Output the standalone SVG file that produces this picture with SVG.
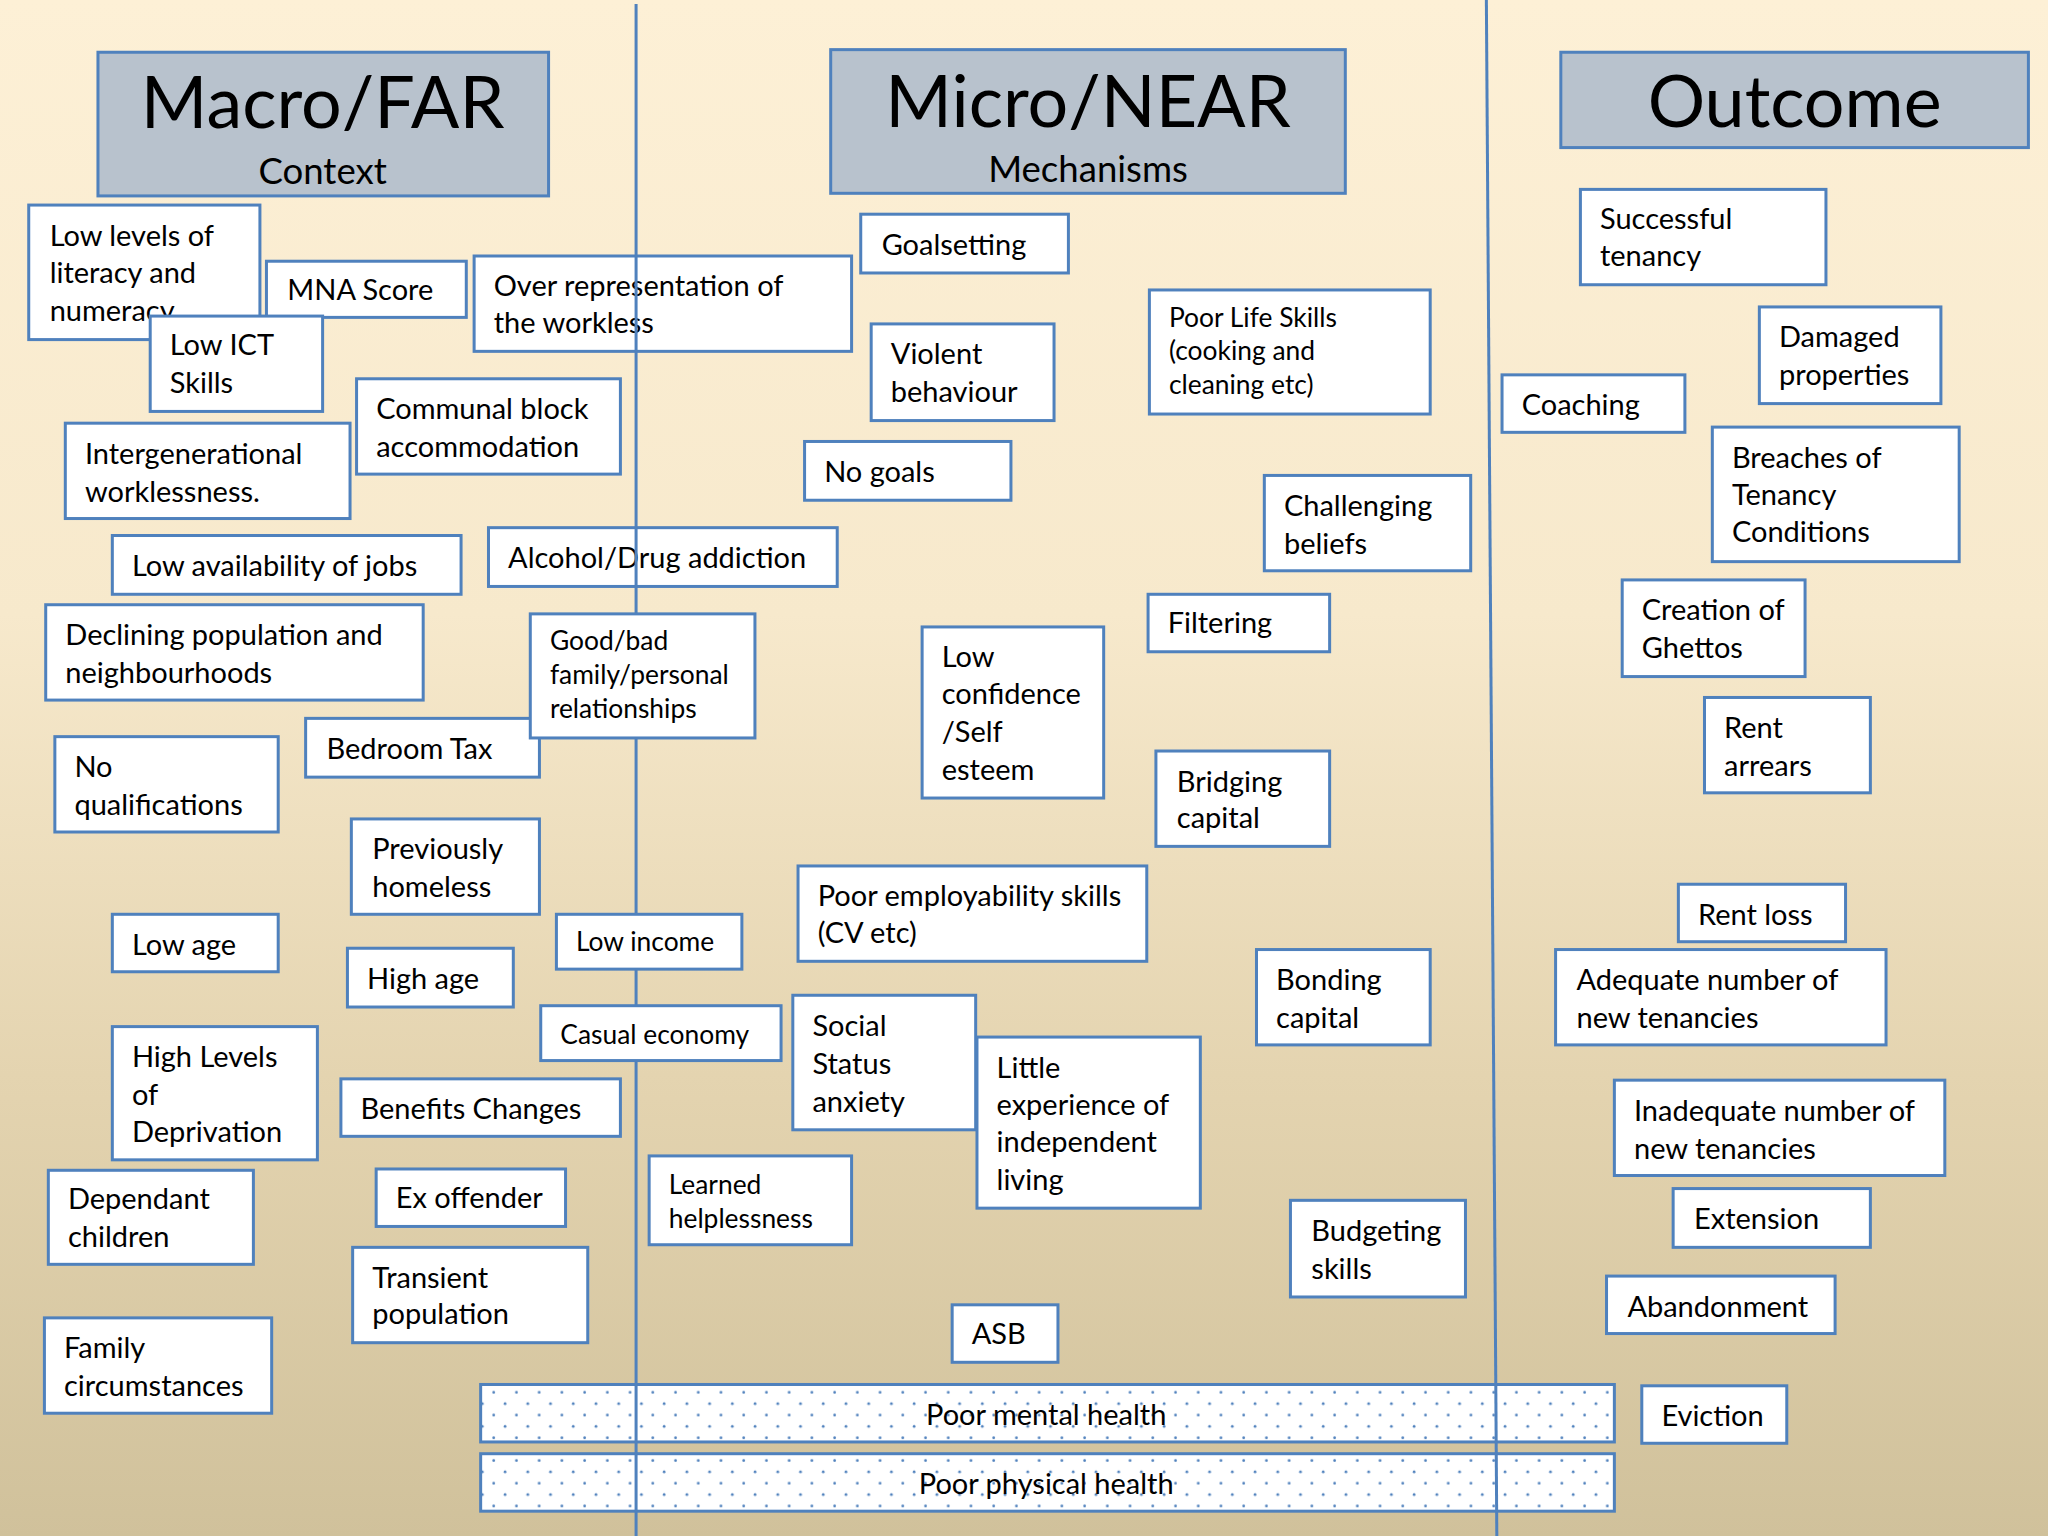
<svg xmlns="http://www.w3.org/2000/svg" width="2048" height="1536" viewBox="0 0 2048 1536">
<defs>
<linearGradient id="bg" x1="0" y1="0" x2="0" y2="1">
<stop offset="0" stop-color="#FDF0D6"/>
<stop offset="0.4" stop-color="#F7E9CC"/>
<stop offset="0.7" stop-color="#E4D4B0"/>
<stop offset="1" stop-color="#D0C19B"/>
</linearGradient>
<pattern id="dots" patternUnits="userSpaceOnUse" x="376" y="1064" width="17.4" height="17.4">
<rect width="17.4" height="17.4" fill="#FFFFFF"/>
<circle cx="2" cy="2" r="1.05" fill="#4F81BD"/>
<circle cx="10.7" cy="10.7" r="1.05" fill="#4F81BD"/>
</pattern>
<style>
.box{fill:#FFFFFF;stroke:#4F81BD;stroke-width:2.3}
.hdr{fill:#B8C2CD;stroke:#4F81BD;stroke-width:2.3}
.dot{fill:url(#dots);stroke:#4F81BD;stroke-width:2.3}
.div{stroke:#4F81BD;stroke-width:2.3;fill:none}
text{font-family:Lato,"Open Sans","Liberation Sans",sans-serif;fill:#000000}
.t{font-size:22.2px}
.s{font-size:20.2px}
.big{font-size:55px;text-anchor:middle}
.sub{font-size:28px;text-anchor:middle}
.c{text-anchor:middle}
</style>
</defs>
<rect width="2048" height="1536" fill="url(#bg)"/>
<g transform="scale(1.306122)">
<g id="hdr-macro"><rect class="hdr" x="75" y="40" width="345" height="110"/><text class="big" x="247" y="98">Macro/FAR</text><text class="sub" x="247" y="141">Context</text></g>
<g id="hdr-micro"><rect class="hdr" x="636" y="38" width="394" height="110"/><text class="big" x="833" y="97">Micro/NEAR</text><text class="sub" x="833" y="139">Mechanisms</text></g>
<g id="hdr-outcome"><rect class="hdr" x="1195" y="40" width="358" height="73"/><text class="big" x="1374" y="97">Outcome</text></g>

<g id="n-literacy"><rect class="box" x="22" y="157" width="177" height="103"/><text class="t"><tspan x="38" y="188">Low levels of</tspan><tspan x="38" y="217">literacy and</tspan><tspan x="38" y="246">numeracy</tspan></text></g>
<g id="n-mna"><rect class="box" x="204" y="200" width="153" height="43"/><text class="t" x="220" y="230">MNA Score</text></g>
<g id="n-ict"><rect class="box" x="115" y="242" width="132" height="73"/><text class="t"><tspan x="130" y="272">Low ICT</tspan><tspan x="130" y="301">Skills</tspan></text></g>
<g id="n-overrep"><rect class="box" x="363" y="196" width="289" height="73"/><text class="t"><tspan x="378" y="227">Over representation of</tspan><tspan x="378" y="255">the workless</tspan></text></g>
<g id="n-communal"><rect class="box" x="273" y="290" width="202" height="73"/><text class="t"><tspan x="288" y="321">Communal block</tspan><tspan x="288" y="350">accommodation</tspan></text></g>
<g id="n-intergen"><rect class="box" x="50" y="324" width="218" height="73"/><text class="t"><tspan x="65" y="355">Intergenerational</tspan><tspan x="65" y="384">worklessness.</tspan></text></g>
<g id="n-jobs"><rect class="box" x="86" y="410" width="267" height="45"/><text class="t" x="101" y="441">Low availability of jobs</text></g>
<g id="n-alcohol"><rect class="box" x="374" y="404" width="267" height="45"/><text class="t" x="389" y="435">Alcohol/Drug addiction</text></g>
<g id="n-declining"><rect class="box" x="35" y="463" width="289" height="73"/><text class="t"><tspan x="50" y="494">Declining population and</tspan><tspan x="50" y="523">neighbourhoods</tspan></text></g>
<g id="n-bedroom"><rect class="box" x="234" y="550" width="179" height="45"/><text class="t" x="250" y="581">Bedroom Tax</text></g>
<g id="n-noqual"><rect class="box" x="42" y="564" width="171" height="73"/><text class="t"><tspan x="57" y="595">No</tspan><tspan x="57" y="624">qualifications</tspan></text></g>
<g id="n-prevhomeless"><rect class="box" x="269" y="627" width="144" height="73"/><text class="t"><tspan x="285" y="658">Previously</tspan><tspan x="285" y="687">homeless</tspan></text></g>
<g id="n-lowage"><rect class="box" x="86" y="700" width="127" height="44"/><text class="t" x="101" y="731">Low age</text></g>
<g id="n-highage"><rect class="box" x="266" y="726" width="127" height="45"/><text class="t" x="281" y="757">High age</text></g>
<g id="n-deprivation"><rect class="box" x="86" y="786" width="157" height="102"/><text class="t"><tspan x="101" y="817">High Levels</tspan><tspan x="101" y="846">of</tspan><tspan x="101" y="874">Deprivation</tspan></text></g>
<g id="n-benefits"><rect class="box" x="261" y="826" width="214" height="44"/><text class="t" x="276" y="857">Benefits Changes</text></g>
<g id="n-dependant"><rect class="box" x="37" y="896" width="157" height="72"/><text class="t"><tspan x="52" y="926">Dependant</tspan><tspan x="52" y="955">children</tspan></text></g>
<g id="n-exoffender"><rect class="box" x="288" y="895" width="145" height="44"/><text class="t" x="303" y="925">Ex offender</text></g>
<g id="n-transient"><rect class="box" x="270" y="955" width="180" height="73"/><text class="t"><tspan x="285" y="986">Transient</tspan><tspan x="285" y="1014">population</tspan></text></g>
<g id="n-family"><rect class="box" x="34" y="1009" width="174" height="73"/><text class="t"><tspan x="49" y="1040">Family</tspan><tspan x="49" y="1069">circumstances</tspan></text></g>
<g id="n-learned"><rect class="box" x="497" y="885" width="155" height="68"/><text class="s"><tspan x="512" y="914">Learned</tspan><tspan x="512" y="940">helplessness</tspan></text></g>

<g id="n-goalsetting"><rect class="box" x="659" y="164" width="159" height="45"/><text class="t" x="675" y="195">Goalsetting</text></g>
<g id="n-violent"><rect class="box" x="667" y="248" width="140" height="74"/><text class="t"><tspan x="682" y="279">Violent</tspan><tspan x="682" y="308">behaviour</tspan></text></g>
<g id="n-nogoals"><rect class="box" x="616" y="338" width="158" height="45"/><text class="t" x="631" y="369">No goals</text></g>
<g id="n-lifeskills"><rect class="box" x="880" y="222" width="215" height="95"/><text class="s"><tspan x="895" y="250">Poor Life Skills</tspan><tspan x="895" y="276">(cooking and</tspan><tspan x="895" y="302">cleaning etc)</tspan></text></g>
<g id="n-challenging"><rect class="box" x="968" y="364" width="158" height="73"/><text class="t"><tspan x="983" y="395">Challenging</tspan><tspan x="983" y="424">beliefs</tspan></text></g>
<g id="n-filtering"><rect class="box" x="879" y="455" width="139" height="44"/><text class="t" x="894" y="485">Filtering</text></g>
<g id="n-confidence"><rect class="box" x="706" y="480" width="139" height="131"/><text class="t"><tspan x="721" y="511">Low</tspan><tspan x="721" y="539">confidence</tspan><tspan x="721" y="568">/Self</tspan><tspan x="721" y="597">esteem</tspan></text></g>
<g id="n-bridging"><rect class="box" x="885" y="575" width="133" height="73"/><text class="t"><tspan x="901" y="606">Bridging</tspan><tspan x="901" y="634">capital</tspan></text></g>
<g id="n-employability"><rect class="box" x="611" y="663" width="267" height="73"/><text class="t"><tspan x="626" y="694">Poor employability skills</tspan><tspan x="626" y="722">(CV etc)</tspan></text></g>
<g id="n-bonding"><rect class="box" x="962" y="727" width="133" height="73"/><text class="t"><tspan x="977" y="758">Bonding</tspan><tspan x="977" y="787">capital</tspan></text></g>
<g id="n-social"><rect class="box" x="607" y="762" width="140" height="103"/><text class="t"><tspan x="622" y="793">Social</tspan><tspan x="622" y="822">Status</tspan><tspan x="622" y="851">anxiety</tspan></text></g>
<g id="n-little"><rect class="box" x="748" y="794" width="171" height="131"/><text class="t"><tspan x="763" y="825">Little</tspan><tspan x="763" y="854">experience of</tspan><tspan x="763" y="882">independent</tspan><tspan x="763" y="911">living</tspan></text></g>
<g id="n-budgeting"><rect class="box" x="988" y="919" width="134" height="74"/><text class="t"><tspan x="1004" y="950">Budgeting</tspan><tspan x="1004" y="979">skills</tspan></text></g>
<g id="n-asb"><rect class="box" x="729" y="999" width="81" height="44"/><text class="t" x="744" y="1029">ASB</text></g>
<g id="n-mental"><rect class="dot" x="368" y="1060" width="868" height="44"/><text class="t c" x="801" y="1091">Poor mental health</text></g>
<g id="n-physical"><rect class="dot" x="368" y="1113" width="868" height="44"/><text class="t c" x="801" y="1144">Poor physical health</text></g>

<g id="n-successful"><rect class="box" x="1210" y="145" width="188" height="73"/><text class="t"><tspan x="1225" y="175">Successful</tspan><tspan x="1225" y="204">tenancy</tspan></text></g>
<g id="n-damaged"><rect class="box" x="1347" y="235" width="139" height="74"/><text class="t"><tspan x="1362" y="266">Damaged</tspan><tspan x="1362" y="295">properties</tspan></text></g>
<g id="n-coaching"><rect class="box" x="1150" y="287" width="140" height="44"/><text class="t" x="1165" y="318">Coaching</text></g>
<g id="n-breaches"><rect class="box" x="1311" y="327" width="189" height="103"/><text class="t"><tspan x="1326" y="358">Breaches of</tspan><tspan x="1326" y="387">Tenancy</tspan><tspan x="1326" y="415">Conditions</tspan></text></g>
<g id="n-ghettos"><rect class="box" x="1242" y="444" width="140" height="74"/><text class="t"><tspan x="1257" y="475">Creation of</tspan><tspan x="1257" y="504">Ghettos</tspan></text></g>
<g id="n-arrears"><rect class="box" x="1305" y="534" width="127" height="73"/><text class="t"><tspan x="1320" y="565">Rent</tspan><tspan x="1320" y="594">arrears</tspan></text></g>
<g id="n-rentloss"><rect class="box" x="1285" y="677" width="128" height="44"/><text class="t" x="1300" y="708">Rent loss</text></g>
<g id="n-adequate"><rect class="box" x="1191" y="727" width="253" height="73"/><text class="t"><tspan x="1207" y="758">Adequate number of</tspan><tspan x="1207" y="787">new tenancies</tspan></text></g>
<g id="n-inadequate"><rect class="box" x="1236" y="827" width="253" height="73"/><text class="t"><tspan x="1251" y="858">Inadequate number of</tspan><tspan x="1251" y="887">new tenancies</tspan></text></g>
<g id="n-extension"><rect class="box" x="1281" y="910" width="151" height="45"/><text class="t" x="1297" y="941">Extension</text></g>
<g id="n-abandonment"><rect class="box" x="1230" y="977" width="175" height="44"/><text class="t" x="1246" y="1008">Abandonment</text></g>
<g id="n-eviction"><rect class="box" x="1257" y="1061" width="111" height="44"/><text class="t" x="1272" y="1092">Eviction</text></g>

<g id="dividers">
<line class="div" x1="487" y1="3" x2="487" y2="1176"/>
<line class="div" x1="1138" y1="0" x2="1146" y2="1176"/>
</g>

<g id="n-goodbad"><rect class="box" x="406" y="470" width="172" height="95"/><text class="s"><tspan x="421" y="498">Good/bad</tspan><tspan x="421" y="524">family/personal</tspan><tspan x="421" y="550">relationships</tspan></text></g>
<g id="n-lowincome"><rect class="box" x="426" y="700" width="142" height="42"/><text class="s" x="441" y="728">Low income</text></g>
<g id="n-casual"><rect class="box" x="414" y="770" width="184" height="42"/><text class="s" x="429" y="799">Casual economy</text></g>
</g>
</svg>
